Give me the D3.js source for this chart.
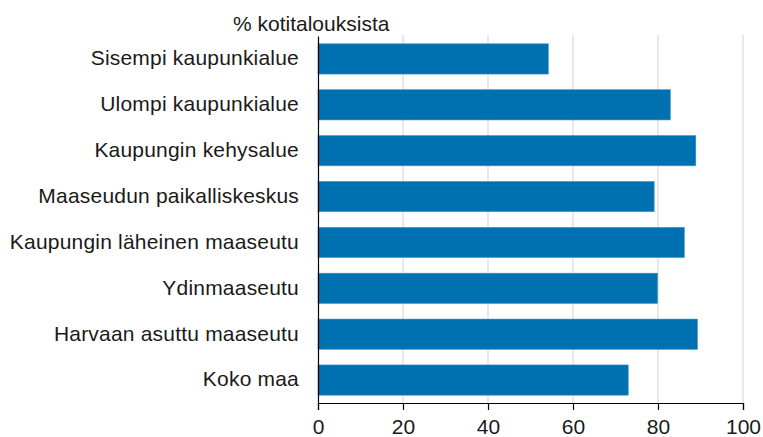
<!DOCTYPE html>
<html>
<head>
<meta charset="utf-8">
<script src="https://cdn.jsdelivr.net/npm/d3@7"></script>
<style>
  body { margin: 0; background: #fff; }
  svg { display: block; }
  text { font-family: "Liberation Sans", Arial, sans-serif; fill: #1a1a1a; }
</style>
</head>
<body>
<svg class="chart"></svg>
<script>
// data
var categories = ["Sisempi kaupunkialue", "Ulompi kaupunkialue", "Kaupungin kehysalue",
    "Maaseudun paikalliskeskus", "Kaupungin läheinen maaseutu", "Ydinmaaseutu",
    "Harvaan asuttu maaseutu", "Koko maa"];
var values = [54.2, 82.9, 88.9, 79.1, 86.2, 79.9, 89.3, 73.0];
var xTicks = [0, 20, 40, 60, 80, 100];
var unitLabel = "% kotitalouksista";

(function show() {
    'use strict';

    var margin = {top: 36, bottom: 34, right: 20, left: 318},
        width = 763 - margin.left - margin.right,
        height = 437 - margin.top - margin.bottom;

    var svg = d3.select(".chart")
        .attr("width", width + margin.left + margin.right)
        .attr("height", height + margin.top + margin.bottom);

    var chart = svg.append("g")
        .attr("transform", "translate(" + margin.left + "," + margin.top + ")");

    var scaleX = d3.scaleLinear().domain([0, 100]).range([0, width]);
    var scaleY = d3.scaleBand()
        .domain(categories)
        .range([0, height])
        .paddingInner(0.34)
        .paddingOuter(0.17);

    // gridlines
    chart.append("g").selectAll("line")
        .data(xTicks.slice(1))
        .enter().append("line")
        .attr("x1", function(d) { return scaleX(d); })
        .attr("x2", function(d) { return scaleX(d); })
        .attr("y1", -1)
        .attr("y2", height)
        .attr("stroke", "#d9d9d9")
        .attr("stroke-width", 1.2);

    // bars
    chart.append("g").selectAll("rect")
        .data(values)
        .enter().append("rect")
        .attr("x", scaleX(0))
        .attr("y", function(d, i) { return scaleY(categories[i]); })
        .attr("width", function(d) { return scaleX(d) - scaleX(0); })
        .attr("height", scaleY.bandwidth())
        .attr("fill", "#0071b0")
        .attr("stroke", "#4b97c9")
        .attr("stroke-width", 0.6);

    // bottom axis
    var bottomAxis = d3.axisBottom(scaleX).tickValues(xTicks).tickSize(7).tickPadding(9)
        .tickFormat(d3.format("d"));
    var bottomG = chart.append("g")
        .attr("transform", "translate(0," + height + ")")
        .call(bottomAxis);
    bottomG.select(".domain").attr("stroke", "#000").attr("stroke-width", 1.2);
    bottomG.selectAll(".tick line").attr("stroke", "#000").attr("stroke-width", 1.2);
    bottomG.selectAll(".tick text")
        .style("font-family", "'Liberation Sans', Arial, sans-serif")
        .style("font-size", "21px")
        .attr("fill", "#1a1a1a");

    // left axis
    var leftAxis = d3.axisLeft(scaleY).tickSize(0).tickPadding(19);
    var leftG = chart.append("g").call(leftAxis);
    leftG.select(".domain").attr("stroke", "#000").attr("stroke-width", 1.2);
    leftG.selectAll(".tick text")
        .style("font-family", "'Liberation Sans', Arial, sans-serif")
        .style("font-size", "21px")
        .style("letter-spacing", "0.2px")
        .attr("fill", "#1a1a1a")
        .attr("dy", "0.3em");

    // unit label
    svg.append("text")
        .attr("x", 233)
        .attr("y", 31)
        .style("font-size", "21px")
        .text(unitLabel);
})();
</script>
</body>
</html>
